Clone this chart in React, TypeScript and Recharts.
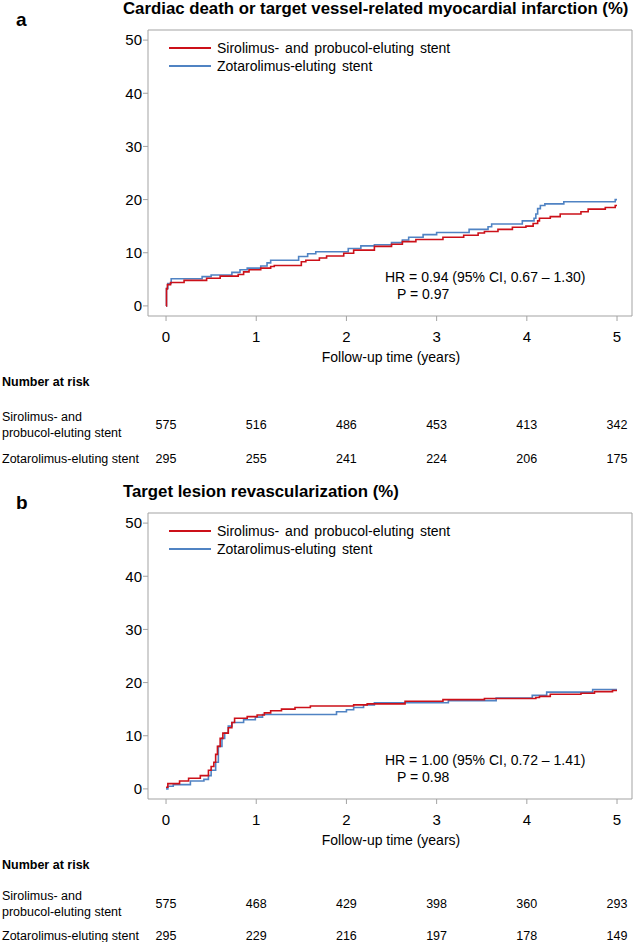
import React from "react";
import {
  LineChart,
  Line,
  XAxis,
  YAxis,
  Legend,
  ReferenceArea,
} from "recharts";

const FONT = '"Liberation Sans", Arial, sans-serif';
const RED = "#cc1019";
const BLUE = "#5083c3";
const GRID = "#a3a3a3";

const seriesNames = [
  "Sirolimus- and probucol-eluting stent",
  "Zotarolimus-eluting stent",
];
const seriesColors = [RED, BLUE];
const yearTicks = [0, 1, 2, 3, 4, 5];
const pctTicks = [0, 10, 20, 30, 40, 50];

// panel a: cardiac death or TV-MI, [years, %]
const aSirolimus = [
  [0, 0], [0.005, 3.2], [0.015, 4.0], [0.05, 4.4], [0.2, 4.8], [0.45, 5.2],
  [0.6, 5.6], [0.8, 5.9], [0.86, 6.4], [0.92, 6.8], [1.05, 7.1], [1.16, 7.4],
  [1.2, 7.6], [1.5, 8.3], [1.55, 8.6], [1.7, 9.0], [1.78, 9.4], [1.97, 9.9],
  [2.08, 10.5], [2.31, 11.2], [2.5, 11.6], [2.62, 12.1], [2.77, 12.5],
  [3.07, 12.9], [3.3, 13.3], [3.46, 13.7], [3.53, 14.0], [3.68, 14.4],
  [3.84, 14.8], [3.99, 15.0], [4.07, 15.5], [4.12, 16.0], [4.14, 16.5],
  [4.26, 16.8], [4.37, 17.3], [4.6, 17.7], [4.68, 18.2], [4.87, 18.5],
  [4.98, 18.9], [5.0, 18.9],
];
const aZotarolimus = [
  [0, 0], [0.005, 3.3], [0.02, 4.2], [0.057, 5.1], [0.4, 5.5], [0.5, 5.8],
  [0.73, 6.3], [0.82, 6.8], [0.9, 7.1], [1.05, 7.5], [1.12, 8.1], [1.16, 8.6],
  [1.47, 9.3], [1.57, 9.8], [1.66, 10.2], [2.02, 10.8], [2.16, 11.3],
  [2.31, 11.5], [2.5, 11.9], [2.62, 12.4], [2.69, 12.9], [2.85, 13.4],
  [3.0, 13.8], [3.36, 14.4], [3.57, 14.9], [3.61, 15.4], [3.95, 16.0],
  [4.08, 16.5], [4.1, 17.3], [4.12, 18.3], [4.15, 18.9], [4.2, 19.2],
  [4.41, 19.6], [4.98, 20.0], [5.0, 20.0],
];
const aRiskSirolimus = [575, 516, 486, 453, 413, 342];
const aRiskZotarolimus = [295, 255, 241, 224, 206, 175];

// panel b: target lesion revascularization
const bSirolimus = [
  [0, 0.3], [0.02, 1.0], [0.15, 1.5], [0.25, 2.0], [0.38, 2.5], [0.47, 3.5],
  [0.5, 4.2], [0.53, 5.0], [0.55, 6.5], [0.57, 8.0], [0.6, 9.5], [0.63, 10.5],
  [0.69, 11.5], [0.73, 12.5], [0.76, 13.3], [0.9, 13.6], [1.01, 13.9],
  [1.09, 14.3], [1.16, 14.7], [1.28, 15.0], [1.43, 15.3], [1.6, 15.6],
  [2.08, 15.8], [2.23, 16.0], [2.65, 16.5], [3.07, 16.8], [3.53, 17.0],
  [4.1, 17.2], [4.14, 17.4], [4.26, 17.8], [4.6, 18.0], [4.75, 18.3],
  [4.95, 18.5], [5.0, 18.5],
];
const bZotarolimus = [
  [0, 0], [0.02, 0.5], [0.08, 0.8], [0.27, 1.5], [0.42, 1.8], [0.47, 2.5],
  [0.5, 3.5], [0.55, 5.0], [0.58, 8.0], [0.62, 9.5], [0.65, 10.5],
  [0.69, 11.8], [0.73, 12.5], [0.86, 13.0], [0.99, 13.5], [1.07, 14.0],
  [1.89, 14.5], [2.0, 14.9], [2.08, 15.3], [2.19, 15.8], [2.31, 16.2],
  [3.13, 16.6], [3.66, 17.1], [4.06, 17.6], [4.22, 18.2], [4.73, 18.7],
  [5.0, 18.7],
];
const bRiskSirolimus = [575, 468, 429, 398, 360, 293];
const bRiskZotarolimus = [295, 229, 216, 197, 178, 149];

const X_DOMAIN = [-0.2, 5.166];
const Y_DOMAIN = [-1.9, 51.9];

const toPts = (arr: number[][]) => arr.map(([t, v]) => ({ t, v }));

function LegendBox() {
  return (
    <div style={{ fontFamily: FONT, fontSize: 14, color: "#000" }}>
      {seriesNames.map((n, i) => (
        <div key={n} style={{ display: "flex", alignItems: "center", height: 18 }}>
          <div
            style={{
              width: 42,
              height: 2,
              background: seriesColors[i],
              marginRight: 6,
            }}
          />
          <span style={{ wordSpacing: 2 }}>{n}</span>
        </div>
      ))}
    </div>
  );
}

function Txt({ x, y, size = 14, bold = false, anchor = "start", children }: any) {
  const tx = anchor === "middle" ? "translate(-50%, -50%)" : "translateY(-50%)";
  return (
    <div
      style={{
        position: "absolute",
        left: x,
        top: y,
        transform: tx,
        fontFamily: FONT,
        fontSize: size,
        fontWeight: bold ? "bold" : "normal",
        lineHeight: 1,
        whiteSpace: "nowrap",
        color: "#000",
      }}
    >
      {children}
    </div>
  );
}

function Panel({ top, letter, title, red, blue, riskRed, riskBlue, hr, p, rows }: any) {
  const riskX = (i: number) => 166 + i * 90.2;
  return (
    <div style={{ position: "absolute", left: 0, top, width: 638, height: 470 }}>
      <Txt x={16} y={19} size={19} bold>
        {letter}
      </Txt>
      <Txt x={123} y={9} size={16.8} bold>
        {title}
      </Txt>
      <div style={{ position: "absolute", left: 0, top: 0 }}>
        <LineChart
          width={638}
          height={360}
          margin={{ top: 30, right: 6, left: 0, bottom: 14 }}
        >
          <XAxis
            type="number"
            dataKey="t"
            domain={X_DOMAIN}
            ticks={yearTicks}
            allowDataOverflow
            height={30}
            axisLine={false}
            tickLine={{ stroke: GRID }}
            tickSize={5}
            tickMargin={10}
            tick={{ fill: "#000", fontSize: 15, fontFamily: FONT }}
          />
          <YAxis
            type="number"
            dataKey="v"
            domain={Y_DOMAIN}
            ticks={pctTicks}
            allowDataOverflow
            width={148}
            axisLine={false}
            tickLine={{ stroke: GRID }}
            tickSize={5}
            tickMargin={1}
            tick={{ fill: "#000", fontSize: 15, fontFamily: FONT }}
          />
          <ReferenceArea
            x1={X_DOMAIN[0]}
            x2={X_DOMAIN[1]}
            y1={Y_DOMAIN[0]}
            y2={Y_DOMAIN[1]}
            fill="none"
            stroke={GRID}
            strokeWidth={1}
          />
          <Legend
            layout="horizontal"
            verticalAlign="middle"
            align="center"
            wrapperStyle={{ left: 169, top: 39, width: "auto" }}
            content={() => <LegendBox />}
          />
          <Line
            data={toPts(blue)}
            dataKey="v"
            type="stepAfter"
            stroke={BLUE}
            strokeWidth={1.6}
            dot={false}
            isAnimationActive={false}
          />
          <Line
            data={toPts(red)}
            dataKey="v"
            type="stepAfter"
            stroke={RED}
            strokeWidth={1.6}
            dot={false}
            isAnimationActive={false}
          />
        </LineChart>
      </div>
      <Txt x={385} y={277}>
        {hr}
      </Txt>
      <Txt x={397} y={294}>
        {p}
      </Txt>
      <Txt x={391} y={357} anchor="middle">
        Follow-up time (years)
      </Txt>
      <Txt x={2} y={rows[0]} size={12.5} bold>
        Number at risk
      </Txt>
      <Txt x={2} y={rows[1] - 8} size={12.5}>
        Sirolimus- and
      </Txt>
      <Txt x={2} y={rows[1] + 8} size={12.5}>
        probucol-eluting stent
      </Txt>
      <Txt x={2} y={rows[2]} size={12.5}>
        Zotarolimus-eluting stent
      </Txt>
      {riskRed.map((n: number, i: number) => (
        <Txt key={"r" + i} x={riskX(i)} y={rows[1]} size={12.5} anchor="middle">
          {n}
        </Txt>
      ))}
      {riskBlue.map((n: number, i: number) => (
        <Txt key={"b" + i} x={riskX(i)} y={rows[2]} size={12.5} anchor="middle">
          {n}
        </Txt>
      ))}
    </div>
  );
}

export default function App() {
  return (
    <div
      style={{
        position: "absolute",
        left: 0,
        top: 0,
        width: 638,
        height: 942,
        background: "#fff",
      }}
    >
      <Panel
        top={0}
        letter="a"
        title="Cardiac death or target vessel-related myocardial infarction (%)"
        red={aSirolimus}
        blue={aZotarolimus}
        riskRed={aRiskSirolimus}
        riskBlue={aRiskZotarolimus}
        hr="HR = 0.94 (95% CI, 0.67 – 1.30)"
        p="P = 0.97"
        rows={[382, 425, 459]}
      />
      <Panel
        top={483}
        letter="b"
        title="Target lesion revascularization (%)"
        red={bSirolimus}
        blue={bZotarolimus}
        riskRed={bRiskSirolimus}
        riskBlue={bRiskZotarolimus}
        hr="HR = 1.00 (95% CI, 0.72 – 1.41)"
        p="P = 0.98"
        rows={[382, 421, 453]}
      />
    </div>
  );
}
